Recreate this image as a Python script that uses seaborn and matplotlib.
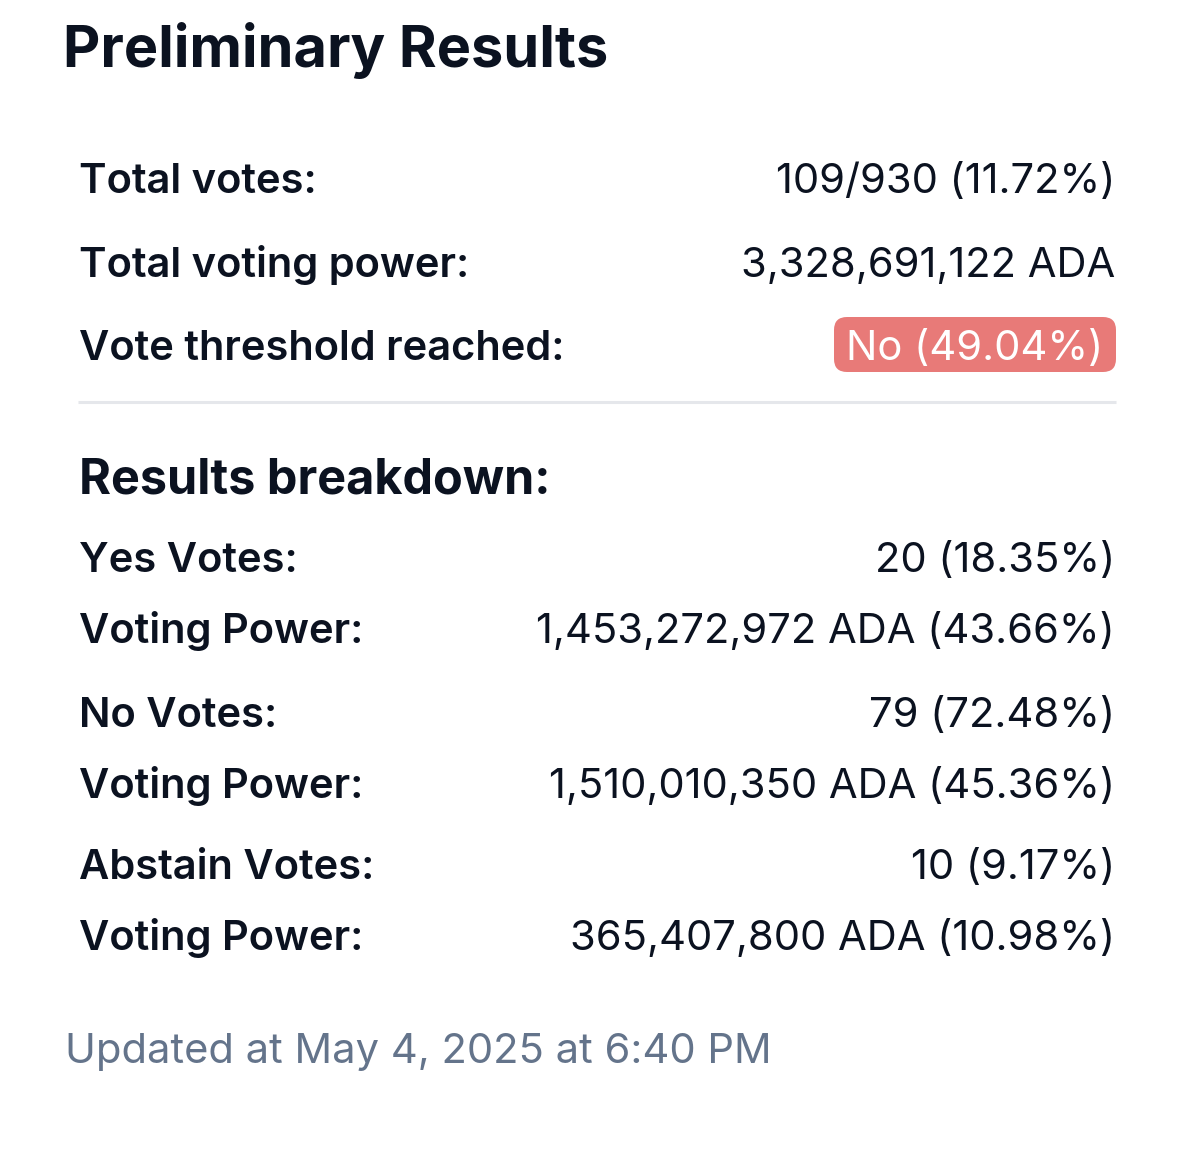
import matplotlib
matplotlib.use("Agg")
import matplotlib.pyplot as plt
import seaborn as sns
from matplotlib.patches import FancyBboxPatch

title = "Preliminary Results"
summary_labels = ["Total votes:", "Total voting power:", "Vote threshold reached:"]
votes_cast = 109
eligible_voters = 930
turnout_pct = 11.72
total_power_ada = 3328691122
threshold_reached = "No"
threshold_pct = 49.04

section_title = "Results breakdown:"
vote_types = ["Yes", "No", "Abstain"]
vote_counts = [20, 79, 10]
vote_count_pct = [18.35, 72.48, 9.17]
vote_power_ada = [1453272972, 1510010350, 365407800]
vote_power_pct = [43.66, 45.36, 10.98]

updated_at = "May 4, 2025 at 6:40 PM"

# --- style ---
sns.set_theme(style="white")
plt.rcParams["font.family"] = ["Inter", "DejaVu Sans"]

INK = "#0b1220"
MUTED = "#64748b"
BADGE = "#e87a78"
RULE = "#e5e7eb"

fig = plt.figure(figsize=(12, 11.75), dpi=100)
ax = fig.add_axes([0, 0, 1, 1])
ax.set_xlim(0, 1200)
ax.set_ylim(1175, 0)
ax.axis("off")

LEFT = 79
RIGHT = 1115
LABEL_SIZE = 30
VALUE_SIZE = 30

ax.text(63, 67, title, fontsize=41.5, fontweight="bold", color=INK, va="baseline", ha="left")

summary_values = [
    f"{votes_cast}/{eligible_voters} ({turnout_pct:.2f}%)",
    f"{total_power_ada:,} ADA",
    None,
]
summary_base = [193, 277, 360]
for lab, val, yb in zip(summary_labels, summary_values, summary_base):
    ax.text(LEFT, yb, lab, fontsize=LABEL_SIZE, fontweight="semibold", color=INK, va="baseline")
    if val is not None:
        ax.text(RIGHT, yb, val, fontsize=VALUE_SIZE, color=INK, va="baseline", ha="right")

# threshold badge
badge = FancyBboxPatch((834, 317), 282, 55, boxstyle="round,pad=0,rounding_size=13",
                       facecolor=BADGE, edgecolor="none")
ax.add_patch(badge)
ax.text(975, 360, f"{threshold_reached} ({threshold_pct:.2f}%)", fontsize=VALUE_SIZE,
        color="white", va="baseline", ha="center")

ax.plot([78, 1116], [402, 402], color=RULE, lw=2.2, solid_capstyle="butt")

ax.text(LEFT, 494, section_title, fontsize=35, fontweight="bold", color=INK, va="baseline")

group_base = [572, 727, 879]
for vt, cnt, cpct, pw, ppct, yb in zip(vote_types, vote_counts, vote_count_pct,
                                        vote_power_ada, vote_power_pct, group_base):
    ax.text(LEFT, yb, f"{vt} Votes:", fontsize=LABEL_SIZE, fontweight="semibold", color=INK, va="baseline")
    ax.text(RIGHT, yb, f"{cnt} ({cpct:.2f}%)", fontsize=VALUE_SIZE, color=INK, va="baseline", ha="right")
    ax.text(LEFT, yb + 71, "Voting Power:", fontsize=LABEL_SIZE, fontweight="semibold", color=INK, va="baseline")
    ax.text(RIGHT, yb + 71, f"{pw:,} ADA ({ppct:.2f}%)", fontsize=VALUE_SIZE, color=INK,
            va="baseline", ha="right")

ax.text(65, 1063, f"Updated at {updated_at}", fontsize=30, color=MUTED, va="baseline")

fig.savefig("out.png", dpi=100, facecolor="white")
